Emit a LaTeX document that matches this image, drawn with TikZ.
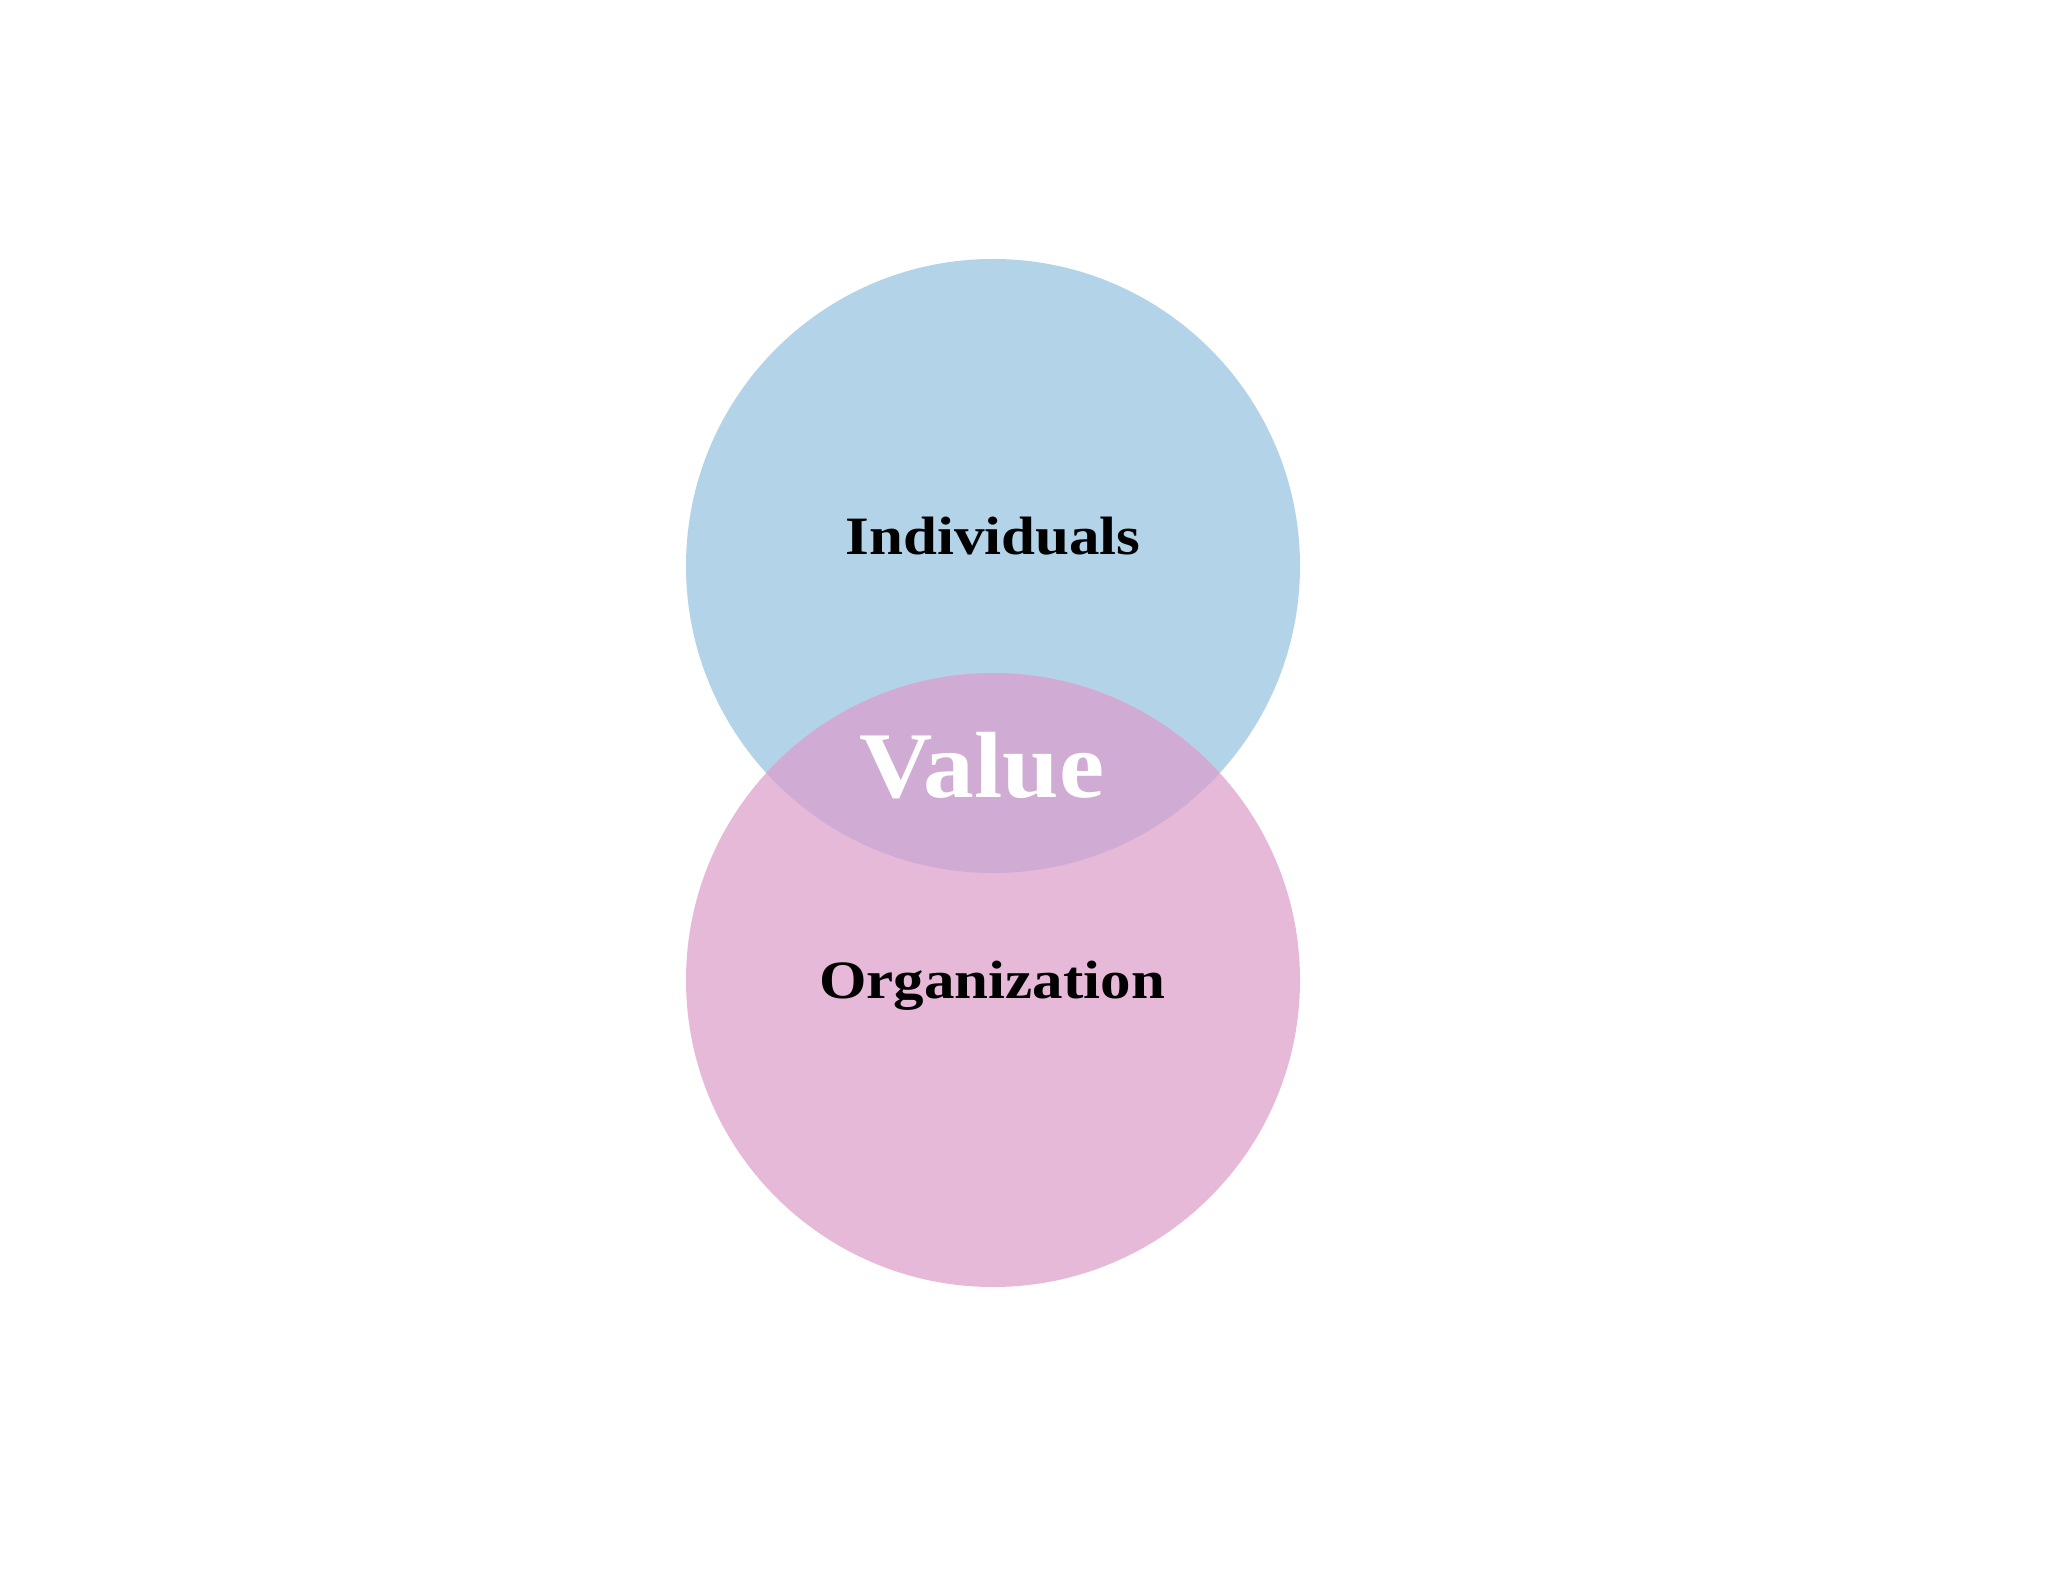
\documentclass[tikz,border=0pt]{standalone}
\usepackage{fontspec}
\setmainfont{Liberation Serif}
\definecolor{indblue}{HTML}{B3D4E8}
\definecolor{orgpink}{HTML}{E7B9D8}
\definecolor{valpurple}{HTML}{D0ACD4}
\begin{document}
\begin{tikzpicture}[x=0.5pt,y=-0.5pt,
  lbl/.style={font=\fontsize{27}{30}\selectfont\bfseries, text=black, anchor=base, inner sep=0pt, xscale=1.13},
  vlbl/.style={font=\fontsize{47}{50}\selectfont\bfseries, text=white, anchor=base, inner sep=0pt, xscale=1.08}]
\useasboundingbox[fill=white] (0,0) rectangle (2048,1582);
\fill[indblue] (993,566) circle (307);
\fill[orgpink] (993,980) circle (307);
\begin{scope}
  \clip (993,566) circle (307);
  \fill[valpurple] (993,980) circle (307);
\end{scope}
\node[lbl] (ind) at (993,554) {Individuals};
\node[vlbl] (val) at (982,797) {Value};
\node[lbl] (org) at (992,998) {Organization};
\end{tikzpicture}
\end{document}
